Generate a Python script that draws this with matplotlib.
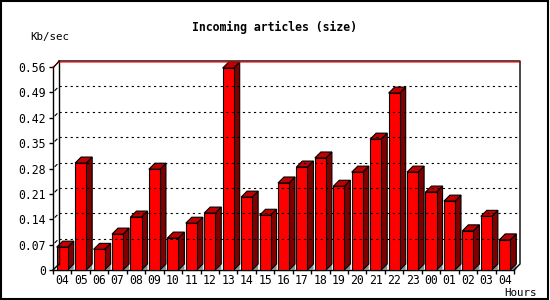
#!/usr/bin/env python
# 3d-ish bar chart of incoming article volume per hour
import numpy as np
import matplotlib
matplotlib.use('Agg')
import matplotlib.pyplot as plt
from matplotlib.patches import Polygon, Rectangle

hours = ['04', '05', '06', '07', '08', '09', '10', '11', '12', '13', '14', '15',
         '16', '17', '18', '19', '20', '21', '22', '23', '00', '01', '02', '03', '04']
kbsec = [0.063, 0.295, 0.057, 0.099, 0.146, 0.278, 0.088, 0.129, 0.157, 0.557,
         0.201, 0.151, 0.240, 0.284, 0.309, 0.231, 0.270, 0.361, 0.488, 0.270,
         0.215, 0.190, 0.108, 0.148, 0.083]
yticks = [0, 0.07, 0.14, 0.21, 0.28, 0.35, 0.42, 0.49, 0.56]

W, H = 550, 300
fig = plt.figure(figsize=(5.5, 3.0), dpi=100)
# front plane of the plot, in figure fractions
ax = fig.add_axes([53 / W, (H - 270) / H, 461 / W, 203 / H])
n = len(kbsec)
ax.set_xlim(0, n)
ax.set_ylim(0, 0.56)
DX, DY = 6, 6   # depth of the 3d effect, pixels

font = 'DejaVu Sans Mono'

def disp(x, y, dx=0, dy=0):
    p = ax.transData.transform((x, y))
    return (p[0] + dx, p[1] + dy)

def poly(pts, **kw):
    fig.patches.append(Polygon(pts, closed=True, transform=None, **kw))

def line(pts, **kw):
    xs = [p[0] for p in pts]
    ys = [p[1] for p in pts]
    fig.lines.append(plt.Line2D(xs, ys, transform=None, **kw))

fig.canvas.draw()

# back plane gridlines
for y in yticks[1:-1]:
    line([disp(0, y, DX, DY), disp(n, y, DX, DY)], color='black', lw=0.8,
         linestyle=(0, (2, 3)))
    line([disp(0, y, 2, 2), disp(0, y, 4, 4)], color='black', lw=0.8)

# back walls
line([disp(0, 0.56, DX, DY), disp(n, 0.56, DX, DY), disp(n, 0, DX, DY), disp(n, 0)],
     color='black', lw=1.0)
line([disp(0, 0, DX, DY), disp(0, 0.56, DX, DY)], color='black', lw=1.0)
line([disp(0, 0), disp(0, 0, DX, DY)], color='black', lw=1.0)
line([disp(0, 0.56), disp(0, 0.56, DX, DY - 1), disp(n, 0.56, DX, DY - 1)],
     color='red', lw=0.8)
line([disp(0, 0.56, 1, 0), disp(0, 0.56, DX, DY)], color='black', lw=0.8)

# bars
bw = 0.6
for i, v in enumerate(kbsec):
    x0 = i + 0.5 - bw / 2
    x1 = i + 0.5 + bw / 2
    # floor shadow
    poly([disp(x1, 0), disp(x1, 0, DX, DY), disp(x1, 0, DX, 0)],
         facecolor='#8c8c8c', edgecolor='none')
    # side
    poly([disp(x1, 0), disp(x1, v), disp(x1, v, DX, DY), disp(x1, 0, DX, DY)],
         facecolor='#800000', edgecolor='black', lw=0.8)
    # top
    poly([disp(x0, v), disp(x1, v), disp(x1, v, DX, DY), disp(x0, v, DX, DY)],
         facecolor='#c00000', edgecolor='black', lw=0.8)
    # front
    poly([disp(x0, 0), disp(x1, 0), disp(x1, v), disp(x0, v)],
         facecolor='#ff0000', edgecolor='black', lw=0.8)

ax.patch.set_visible(False)
for s in ['top', 'right']:
    ax.spines[s].set_visible(False)
ax.spines['left'].set_linewidth(1.0)
ax.spines['bottom'].set_linewidth(1.0)

ax.set_yticks(yticks)
ax.set_yticklabels(['0' if t == 0 else '%.2f' % t for t in yticks],
                   fontfamily=font, fontsize=8.3)
ax.tick_params(axis='y', length=3, width=1.0, pad=2)

ax.set_xticks(np.arange(n + 1))
ax.set_xticklabels([])
ax.tick_params(axis='x', which='major', length=3, width=1.0)
ax.set_xticks(np.arange(n) + 0.5, minor=True)
ax.set_xticklabels(hours, minor=True, fontfamily=font, fontsize=8.3)
ax.tick_params(axis='x', which='minor', length=0, pad=3)

fig.text(0.5, 1 - 27 / H, 'Incoming articles (size)', ha='center', va='center',
         fontfamily=font, fontweight='bold', fontsize=8.3)
fig.text(30 / W, 1 - 37 / H, 'Kb/sec', ha='left', va='center',
         fontfamily=font, fontsize=7.8)
fig.text(504 / W, 1 - 293 / H, 'Hours', ha='left', va='center',
         fontfamily=font, fontsize=7.8)

# outer frame
fig.patches.append(Rectangle((0.5 / W, 1.5 / H), 547.5 / W, 297.5 / H,
                             transform=fig.transFigure, fill=False,
                             edgecolor='black', lw=1.5))

fig.savefig('out.png', dpi=100)
